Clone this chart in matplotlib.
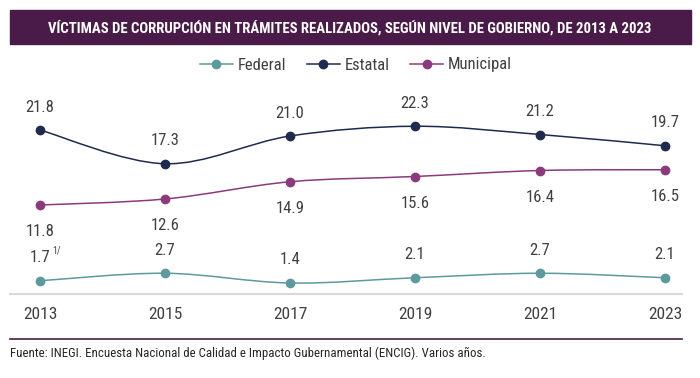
import numpy as np
import matplotlib.pyplot as plt
from matplotlib.path import Path
from matplotlib.patches import PathPatch, Rectangle
from matplotlib.lines import Line2D

# Datos
years = [2013, 2015, 2017, 2019, 2021, 2023]
federal = [1.7, 2.7, 1.4, 2.1, 2.7, 2.1]
estatal = [21.8, 17.3, 21.0, 22.3, 21.2, 19.7]
municipal = [11.8, 12.6, 14.9, 15.6, 16.4, 16.5]
series_names = ['Federal', 'Estatal', 'Municipal']

title = 'VÍCTIMAS DE CORRUPCIÓN EN TRÁMITES REALIZADOS, SEGÚN NIVEL DE GOBIERNO, DE 2013 A 2023'
source = 'Fuente: INEGI. Encuesta Nacional de Calidad e Impacto Gubernamental (ENCIG). Varios años.'

c_fed = '#5c9a9d'
c_est = '#1e2b4d'
c_mun = '#8b3a7c'
c_bar = '#4a1b48'
c_txt = '#404040'

plt.rcParams['font.family'] = ['Roboto Condensed', 'DejaVu Sans']

W, H = 700, 378
fig = plt.figure(figsize=(7, 3.78), dpi=100)
renderer = fig.canvas.get_renderer()

def fx(px):
    return px / W

def fy(py):
    return 1 - py / H

def fit_width(t, target_px):
    # ajusta el tamano de letra al ancho medido en la referencia
    w = t.get_window_extent(renderer).width
    t.set_fontsize(t.get_fontsize() * target_px / w)

# Banda del titulo
fig.patches.append(Rectangle((fx(10), fy(44)), fx(691) - fx(10), fy(10) - fy(44),
                             transform=fig.transFigure, color=c_bar, zorder=0))
t = fig.text(fx(350), fy(27.5), title, color='white', fontsize=10, fontweight='heavy',
             ha='center', va='center')
fit_width(t, 602)

# Ejes
ax_l, ax_r, ax_b, ax_t = 10, 682, 293.5, 85
ax = fig.add_axes([fx(ax_l), fy(ax_b), fx(ax_r) - fx(ax_l), fy(ax_t) - fy(ax_b)])
ppy = 62.5
ax.set_xlim(2013 - (40 - ax_l) / ppy, 2023 + (ax_r - 665) / ppy)
ax.set_ylim(0, (ax_b - ax_t) / 7.5)
for s in ['top', 'right', 'left']:
    ax.spines[s].set_visible(False)
ax.spines['bottom'].set_color('#d9d9d9')
ax.spines['bottom'].set_linewidth(1.5)
ax.set_yticks([])
ax.set_xticks(years)
ax.set_xticklabels([str(y) for y in years])
ax.tick_params(axis='x', length=0, pad=10, labelsize=12.5, labelcolor=c_txt)


def smooth_path(xs, ys):
    # curva suavizada tipo Excel (Catmull-Rom como Bezier)
    pts = np.column_stack([xs, ys]).astype(float)
    n = len(pts)
    verts = [pts[0]]
    codes = [Path.MOVETO]
    for i in range(n - 1):
        p0 = pts[max(i - 1, 0)]
        p1 = pts[i]
        p2 = pts[i + 1]
        p3 = pts[min(i + 2, n - 1)]
        verts += [p1 + (p2 - p0) / 6, p2 - (p3 - p1) / 6, p2]
        codes += [Path.CURVE4] * 3
    return Path(verts, codes)


series = [federal, estatal, municipal]
colors = [c_fed, c_est, c_mun]
offsets = [23, 23, -27]  # pixeles
for vals, col, off in zip(series, colors, offsets):
    ax.add_patch(PathPatch(smooth_path(years, vals), facecolor='none', edgecolor=col,
                           lw=1.1, zorder=2))
    ax.plot(years, vals, 'o', color=col, ms=6, zorder=3, clip_on=False)
    for x, v in zip(years, vals):
        ax.annotate(f'{v:.1f}', (x, v), xytext=(0, off), textcoords='offset pixels',
                    ha='center', va='center', fontsize=12, color=c_txt,
                    annotation_clip=False)

# nota 1/ del primer dato federal
ax.annotate('1/', (years[0], federal[0]), xytext=(12, 25), textcoords='offset pixels',
            ha='left', va='bottom', fontsize=7, color=c_txt, annotation_clip=False)

# Leyenda
handles = [Line2D([], [], color=c, marker='o', ms=6, lw=1.1) for c in colors]
fig.legend(handles, series_names, loc='center', bbox_to_anchor=(fx(356), fy(65)),
           ncol=3, frameon=False, fontsize=12, labelcolor=c_txt, handlelength=2.0,
           columnspacing=1.2, handletextpad=0.3, numpoints=1)

# Linea separadora y fuente
fig.add_artist(Line2D([fx(10), fx(682)], [fy(339), fy(339)], color=c_bar, lw=1.2))
s = fig.text(fx(10), fy(353), source, fontsize=10, color='#262626', ha='left', va='center')
fit_width(s, 470)

fig.savefig('out.png', dpi=100)
